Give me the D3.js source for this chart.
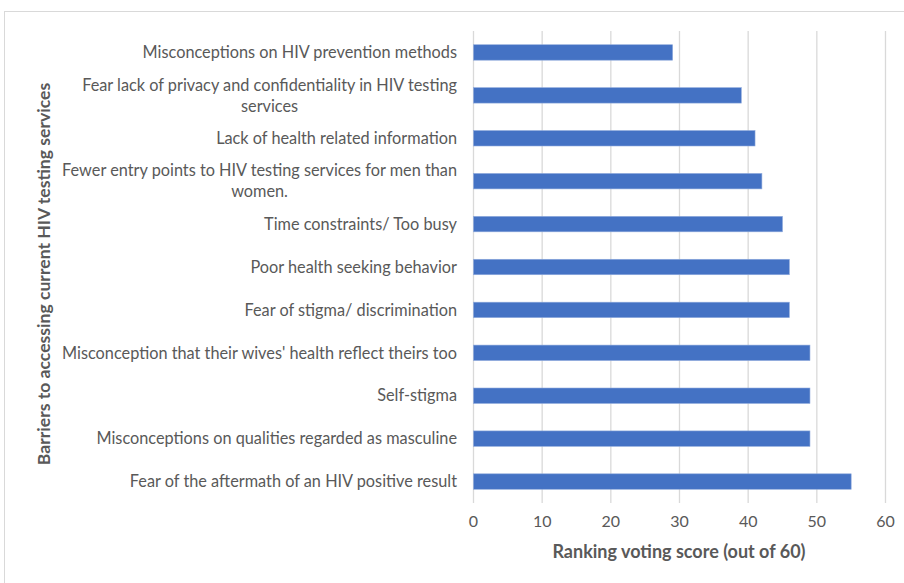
<!DOCTYPE html>
<html><head><meta charset="utf-8">
<script src="https://d3js.org/d3.v7.min.js"></script>
<style>body{margin:0;background:#fff}svg{display:block}text{font-family:Lato,"Open Sans",sans-serif}</style>
</head><body><svg id="c" width="904" height="583"></svg>
<script>
const categories = [
  "Misconceptions on HIV prevention methods",
  "Fear lack of privacy and confidentiality in HIV testing\nservices",
  "Lack of health related information",
  "Fewer entry points to HIV testing services for men than\nwomen.",
  "Time constraints/ Too busy",
  "Poor health seeking behavior",
  "Fear of stigma/ discrimination",
  "Misconception that their wives' health reflect theirs too",
  "Self-stigma",
  "Misconceptions on qualities regarded as masculine",
  "Fear of the aftermath of an HIV positive result"
];
const scores = [29, 39, 41, 42, 45, 46, 46, 49, 49, 49, 55];
const xTicks = [0, 10, 20, 30, 40, 50, 60];
const xTitle = "Ranking voting score (out of 60)";
const yTitle = "Barriers to accessing current HIV testing services";

const svg = d3.select("#c");
svg.append("rect").attr("x",4.5).attr("y",11.5).attr("width",1000).attr("height",1000)
  .attr("fill","none").attr("stroke","#d9d9d9");

const pLeft = 473, pRight = 885, pTop = 31, pBottom = 503;
const x = d3.scaleLinear().domain([0,60]).range([pLeft,pRight]);
const y = d3.scaleBand().domain(categories).range([pTop,pBottom]).paddingInner(0.64).paddingOuter(0.32);

svg.append("g").selectAll("line").data(xTicks).join("line")
  .attr("x1",d=>x(d)+0.5).attr("x2",d=>x(d)+0.5).attr("y1",pTop).attr("y2",pBottom)
  .attr("stroke","#d9d9d9").attr("stroke-width",1.3);

svg.append("g").selectAll("rect").data(categories).join("rect")
  .attr("x",x(0)+0.5).attr("y",d=>y(d)).attr("height",y.bandwidth())
  .attr("width",(d,i)=>x(scores[i])-x(0))
  .attr("fill","#4472c4").attr("stroke","#8faadc").attr("stroke-width",0.6);

const xa = d3.axisBottom(x).tickValues(xTicks).tickSize(0).tickPadding(0);
const gx = svg.append("g").attr("transform",`translate(0,${pBottom+13})`).call(xa);
gx.select(".domain").remove();
gx.selectAll("text").attr("font-size",16).attr("fill","#595959").attr("font-family","Lato,sans-serif").attr("dy","0.71em");

const lab = svg.append("g");
categories.forEach((c,i)=>{
  const lines = c.split("\n");
  const cy = y(c) + y.bandwidth()/2;
  const lh = 21;
  const t = lab.append("text").attr("font-size",16.3).attr("fill","#595959");
  if (lines.length === 1) {
    t.append("tspan").attr("x",pLeft-16).attr("y",cy).attr("dy","0.35em").attr("text-anchor","end").text(lines[0]);
  } else {
    const t0 = t.append("tspan").attr("x",pLeft-16).attr("y",cy-lh/2).attr("dy","0.35em").attr("text-anchor","end").text(lines[0]);
    const w = t0.node().getComputedTextLength();
    t.append("tspan").attr("x",pLeft-16-w/2).attr("y",cy+lh/2).attr("dy","0.35em").attr("text-anchor","middle").text(lines[1]);
  }
});

svg.append("text").attr("x",679).attr("y",558).attr("text-anchor","middle")
  .attr("font-size",18).attr("font-weight","bold").attr("fill","#595959").text(xTitle);
svg.append("text").attr("transform",`translate(50,${(pTop+pBottom)/2+7}) rotate(-90)`).attr("text-anchor","middle")
  .attr("font-size",17.6).attr("font-weight","bold").attr("fill","#595959").text(yTitle);
</script></body></html>
